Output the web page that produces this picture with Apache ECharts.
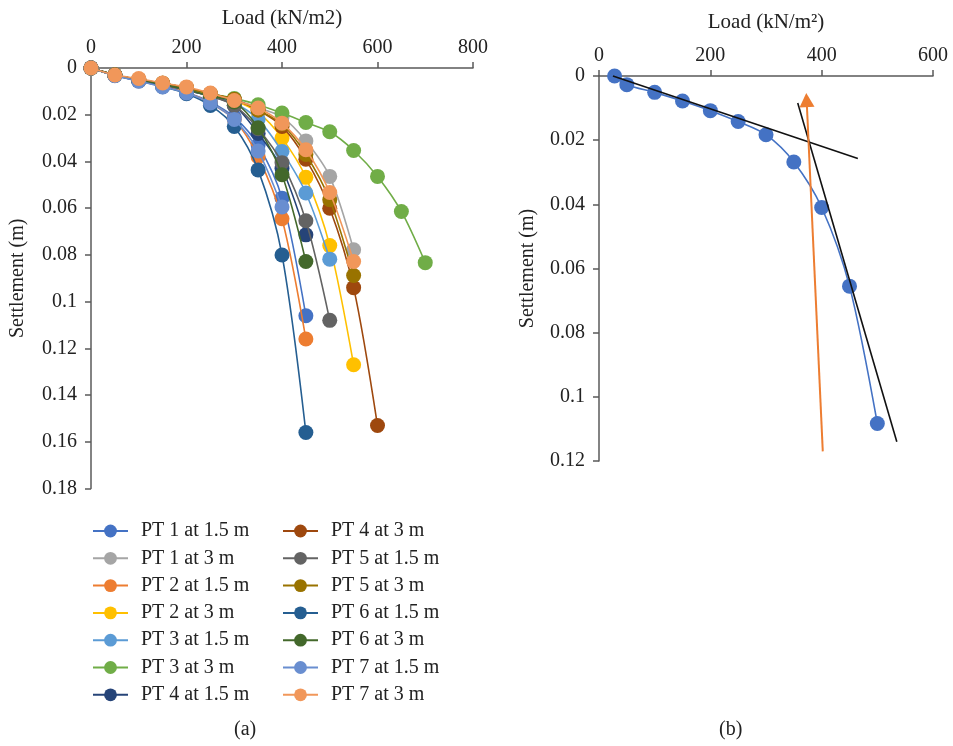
<!DOCTYPE html>
<html>
<head>
<meta charset="utf-8">
<script src="https://cdn.jsdelivr.net/npm/echarts@6/dist/echarts.min.js"></script>
<style>
html,body{margin:0;padding:0;background:#fff;}
#chart{width:953px;height:746px;}
</style>
</head>
<body>
<div id="chart"></div>
<script>
// ---------- Data: panel (a) ----------
const loadsA = [0, 50, 100, 150, 200, 250, 300, 350, 400, 450, 500, 550, 600, 650, 700];
const seriesNames = [
  "PT 1 at 1.5 m", "PT 1 at 3 m", "PT 2 at 1.5 m", "PT 2 at 3 m",
  "PT 3 at 1.5 m", "PT 3 at 3 m", "PT 4 at 1.5 m", "PT 4 at 3 m",
  "PT 5 at 1.5 m", "PT 5 at 3 m", "PT 6 at 1.5 m", "PT 6 at 3 m",
  "PT 7 at 1.5 m", "PT 7 at 3 m"
];
const pt1_15 = [0, 0.0032, 0.0055, 0.0078, 0.0105, 0.0145, 0.021, 0.033, 0.0557, 0.106];
const pt1_3  = [0, 0.003, 0.005, 0.0068, 0.0088, 0.011, 0.0135, 0.017, 0.021, 0.0312, 0.0464, 0.0778];
const pt2_15 = [0, 0.003, 0.0055, 0.0078, 0.0105, 0.015, 0.022, 0.038, 0.0645, 0.116];
const pt2_3  = [0, 0.003, 0.005, 0.007, 0.009, 0.0115, 0.014, 0.019, 0.030, 0.0468, 0.076, 0.127];
const pt3_15 = [0, 0.003, 0.005, 0.007, 0.0095, 0.012, 0.015, 0.022, 0.0357, 0.0535, 0.0818];
const pt3_3  = [0, 0.003, 0.005, 0.0065, 0.0085, 0.011, 0.013, 0.0157, 0.0193, 0.0233, 0.0273, 0.0353, 0.0464, 0.0614, 0.0833];
const pt4_15 = [0, 0.003, 0.005, 0.007, 0.0095, 0.012, 0.016, 0.028, 0.043, 0.0714];
const pt4_3  = [0, 0.003, 0.005, 0.0065, 0.0085, 0.011, 0.0135, 0.018, 0.025, 0.039, 0.060, 0.094, 0.153];
const pt5_15 = [0, 0.003, 0.005, 0.007, 0.0095, 0.012, 0.016, 0.026, 0.0405, 0.0654, 0.108];
const pt5_3  = [0, 0.003, 0.005, 0.0065, 0.0085, 0.011, 0.0135, 0.018, 0.024, 0.037, 0.0564, 0.0888];
const pt6_15 = [0, 0.0032, 0.0055, 0.008, 0.011, 0.016, 0.025, 0.0436, 0.080, 0.156];
const pt6_3  = [0, 0.003, 0.005, 0.007, 0.0093, 0.012, 0.0145, 0.0256, 0.0457, 0.0828];
const pt7_15 = [0, 0.0033, 0.0056, 0.0081, 0.0107, 0.015, 0.022, 0.0355, 0.0595];
const pt7_3  = [0, 0.003, 0.0045, 0.0064, 0.0081, 0.0107, 0.0139, 0.0171, 0.0236, 0.035, 0.0533, 0.0828];
const seriesValues = [pt1_15, pt1_3, pt2_15, pt2_3, pt3_15, pt3_3, pt4_15, pt4_3, pt5_15, pt5_3, pt6_15, pt6_3, pt7_15, pt7_3];
const seriesColors = ["#4472C4", "#A5A5A5", "#ED7D31", "#FFC000", "#5B9BD5", "#70AD47", "#264478", "#9E480E",
                      "#636363", "#997300", "#255E91", "#43682B", "#698ED0", "#F1975A"];

// ---------- Data: panel (b) ----------
const loadsB  = [28, 50, 100, 150, 200, 250, 300, 350, 400, 450, 500];
const settleB = [0, 0.0027, 0.0051, 0.0078, 0.0108, 0.0142, 0.0183, 0.0268, 0.041, 0.0655, 0.1083];
const tangent1 = [[25, 0], [465, 0.0257]];
const tangent2 = [[357, 0.0084], [535, 0.114]];
const arrowLine = [[402, 0.117], [373, 0.0075]];

// ---------- Axis ticks ----------
const xTicksA = {min: 0, max: 800, interval: 200};
const yTicksA = {min: 0, max: 0.18, interval: 0.02};
const xTicksB = {min: 0, max: 600, interval: 200};
const yTicksB = {min: 0, max: 0.12, interval: 0.02};

const FONT = "Liberation Serif";
const axisColor = "#5a5a5a";
const txt = {color: "#222", fontFamily: FONT, fontSize: 20};

function xAxisCfg(gi, t, name, gap) {
  return {
    gridIndex: gi, type: "value", position: "top", min: t.min, max: t.max, interval: t.interval,
    name: name, nameLocation: "middle", nameGap: gap,
    nameTextStyle: Object.assign({}, txt, {fontSize: 21}),
    axisLine: {show: true, onZero: false, lineStyle: {color: axisColor, width: 1.5}},
    axisTick: {show: true, length: 6, lineStyle: {color: axisColor, width: 1.5}},
    axisLabel: Object.assign({margin: 10}, txt),
    splitLine: {show: false}
  };
}
function yAxisCfg(gi, t, gap) {
  return {
    gridIndex: gi, type: "value", inverse: true, min: t.min, max: t.max, interval: t.interval,
    name: "Settlement (m)", nameLocation: "middle", nameGap: gap, nameRotate: 90,
    nameTextStyle: txt,
    axisLine: {show: true, onZero: false, lineStyle: {color: axisColor, width: 1.5}},
    axisTick: {show: true, length: 6, lineStyle: {color: axisColor, width: 1.5}},
    axisLabel: Object.assign({margin: 14, formatter: v => String(+v.toFixed(2))}, txt),
    splitLine: {show: false}
  };
}

const series = seriesNames.map((nm, i) => ({
  name: nm, type: "line", xAxisIndex: 0, yAxisIndex: 0, smooth: 0.3,
  data: seriesValues[i].map((v, k) => [loadsA[k], v]),
  symbol: "circle", symbolSize: 15,
  lineStyle: {color: seriesColors[i], width: 1.6},
  itemStyle: {color: seriesColors[i]},
  color: seriesColors[i], z: 2 + i
}));

series.push({
  name: "b-curve", type: "line", xAxisIndex: 1, yAxisIndex: 1, smooth: 0.3,
  data: loadsB.map((x, k) => [x, settleB[k]]),
  symbol: "circle", symbolSize: 15,
  lineStyle: {color: "#4472C4", width: 1.6}, itemStyle: {color: "#4472C4"}, z: 3
});
series.push({
  name: "b-tan1", type: "line", xAxisIndex: 1, yAxisIndex: 1, data: tangent1,
  symbol: "none", lineStyle: {color: "#111", width: 1.6}, z: 4, clip: false
});
series.push({
  name: "b-tan2", type: "line", xAxisIndex: 1, yAxisIndex: 1, data: tangent2,
  symbol: "none", lineStyle: {color: "#111", width: 1.6}, z: 4
});
series.push({
  name: "b-arrow", type: "line", xAxisIndex: 1, yAxisIndex: 1,
  data: [
    {value: arrowLine[0], symbol: "none"},
    {value: arrowLine[1], symbol: "triangle", symbolSize: [15, 14], symbolRotate: 3}
  ],
  showSymbol: true,
  lineStyle: {color: "#ED7D31", width: 2}, itemStyle: {color: "#ED7D31"}, z: 5
});

const legendCommon = {
  orient: "vertical", itemWidth: 35, itemHeight: 16, itemGap: 7.3, padding: 0,
  textStyle: {color: "#222", fontFamily: FONT, fontSize: 20, padding: [0, 0, 0, 8]},
  selectedMode: false
};

const option = {
  animation: false,
  backgroundColor: "#fff",
  grid: [
    {left: 91, top: 68, width: 382, height: 420.6, outerBoundsMode: "none", containLabel: false},
    {left: 599, top: 76, width: 334, height: 385, outerBoundsMode: "none", containLabel: false}
  ],
  xAxis: [xAxisCfg(0, xTicksA, "Load (kN/m2)", 39), xAxisCfg(1, xTicksB, "Load (kN/m²)", 43)],
  yAxis: [yAxisCfg(0, yTicksA, 63), yAxisCfg(1, yTicksB, 61)],
  legend: [
    Object.assign({left: 92, top: 521, data: seriesNames.slice(0, 7)}, legendCommon),
    Object.assign({left: 282, top: 521, data: seriesNames.slice(7)}, legendCommon)
  ],
  graphic: [
    {type: "text", left: 234, top: 720, style: {text: "(a)", font: "20px " + FONT, fill: "#222"}},
    {type: "text", left: 719, top: 720, style: {text: "(b)", font: "20px " + FONT, fill: "#222"}}
  ],
  series: series
};

const chart = echarts.init(document.getElementById("chart"), null, {renderer: "canvas"});
chart.setOption(option);
</script>
</body>
</html>
